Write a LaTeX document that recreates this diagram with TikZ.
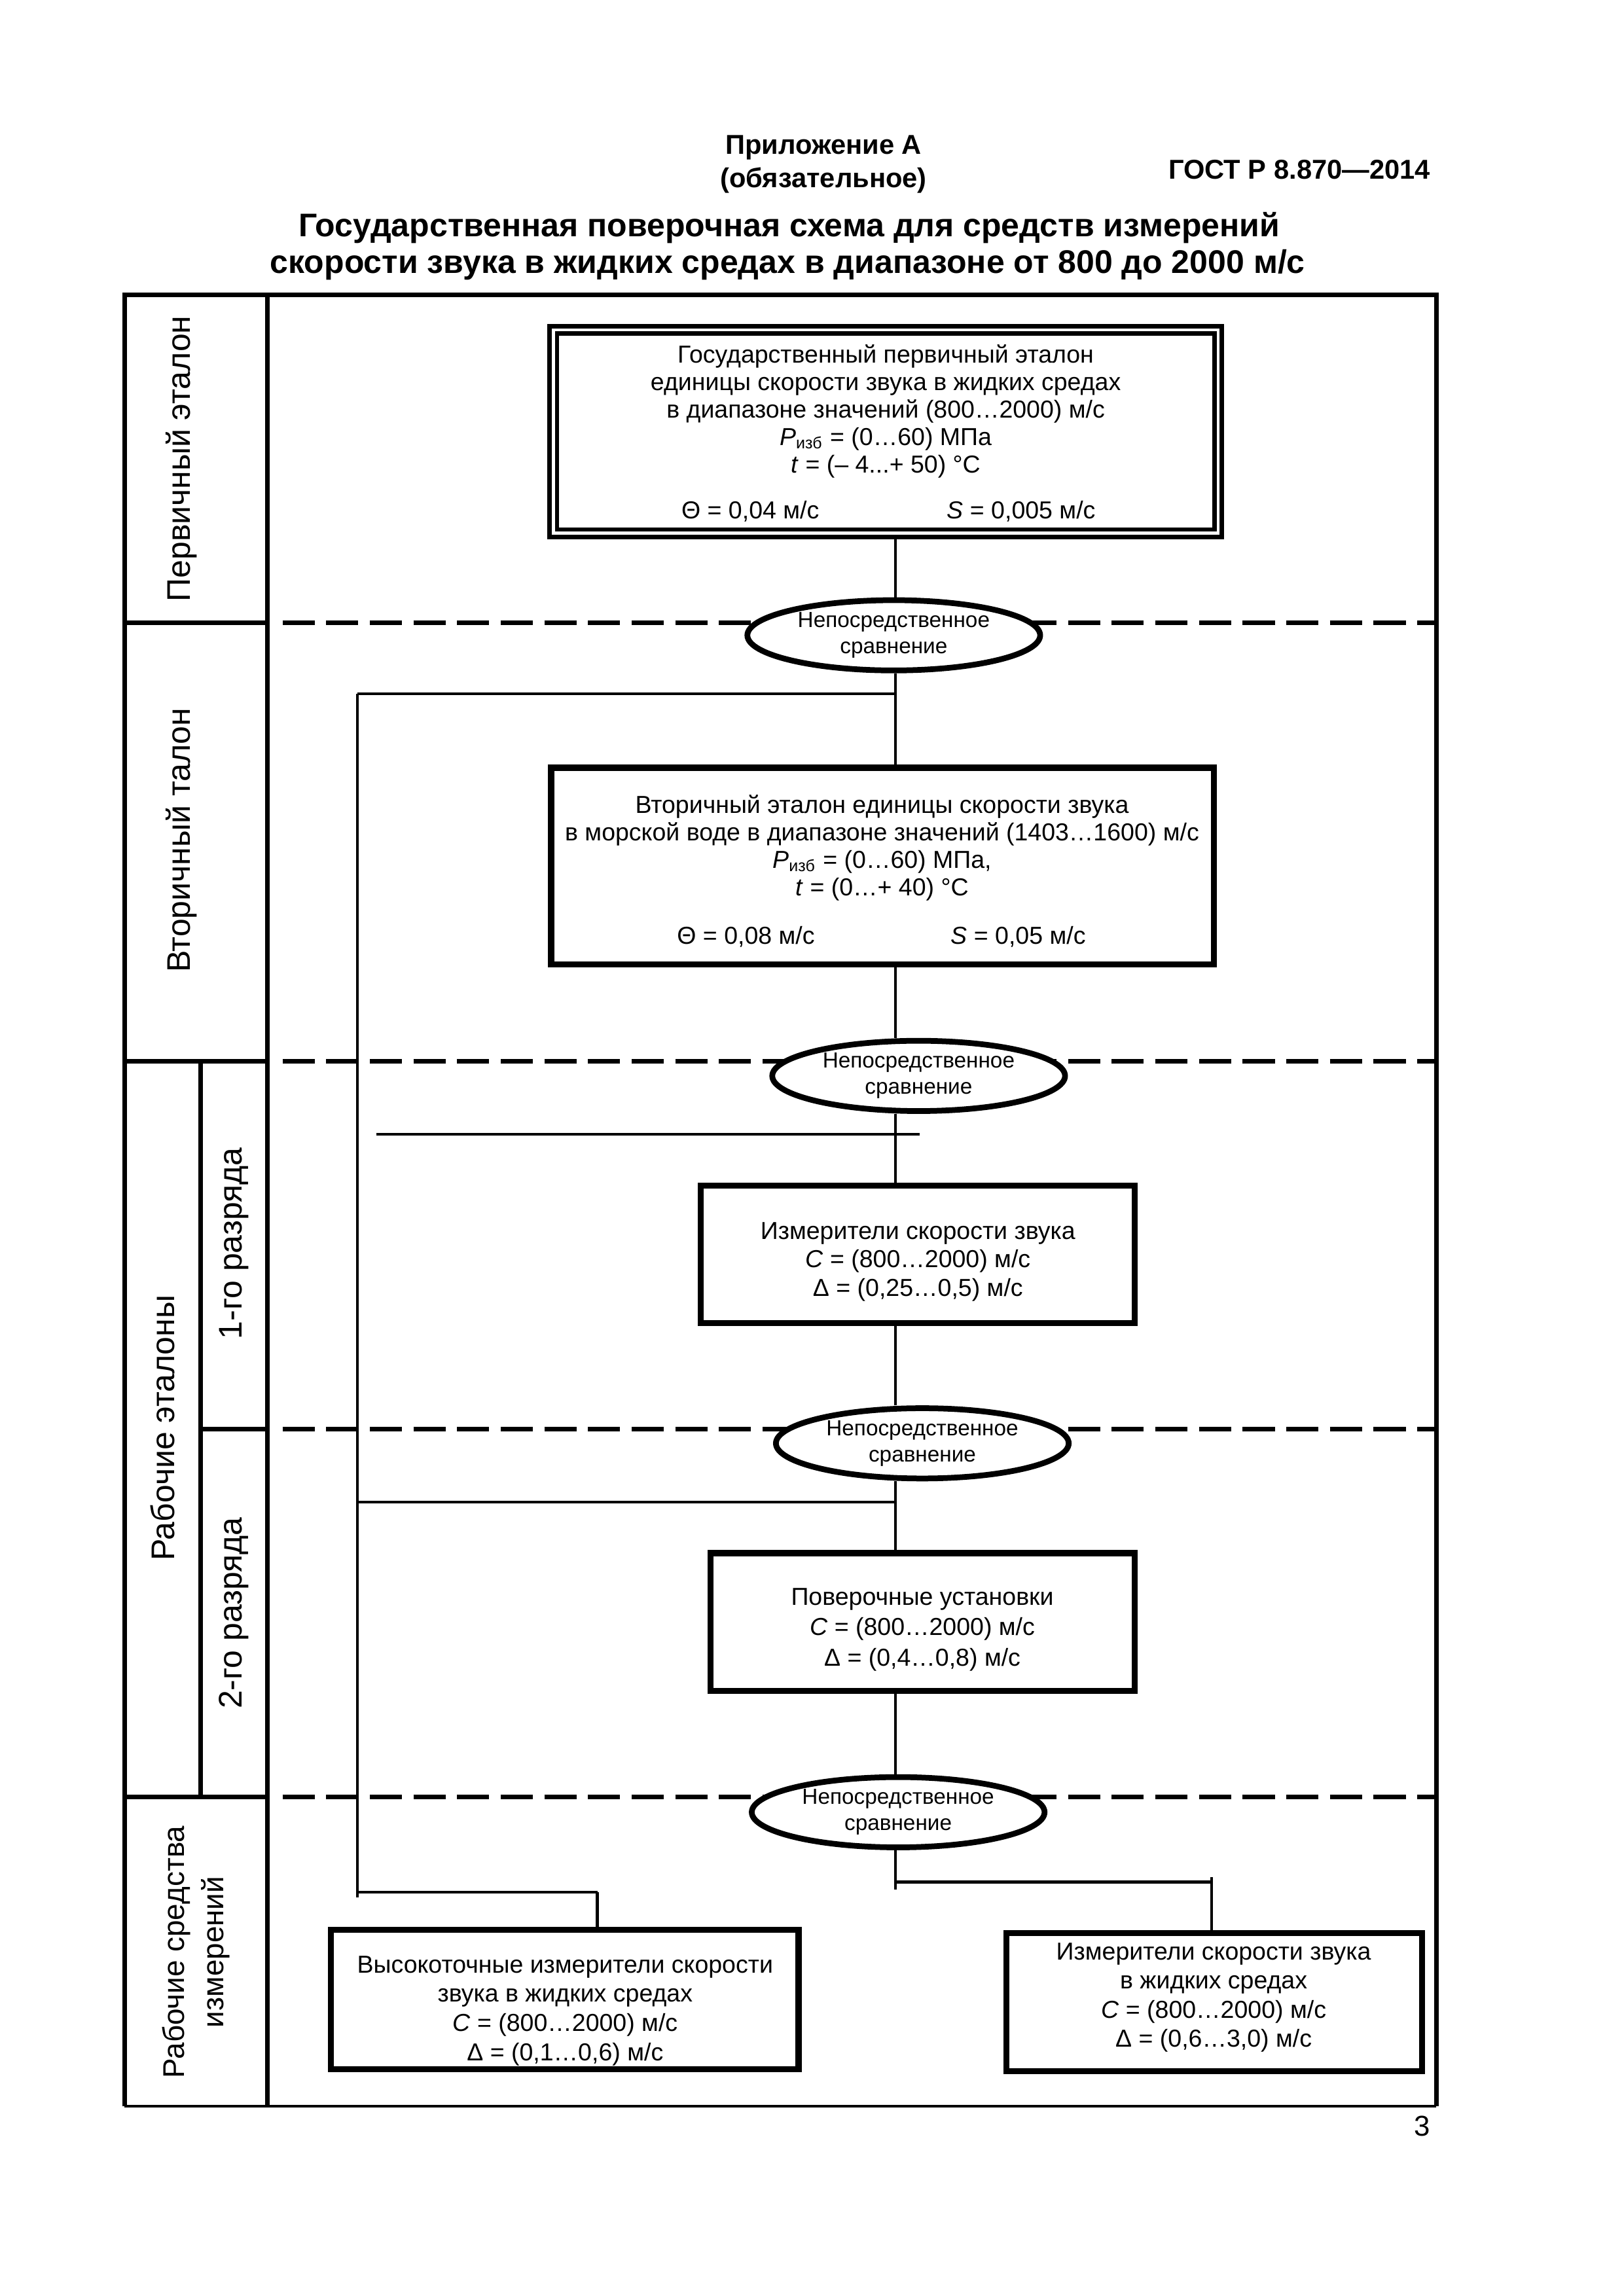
\documentclass[tikz,border=0pt]{standalone}
\usepackage{fontspec}
\setmainfont{Liberation Sans}
\usetikzlibrary{shapes.geometric}
\pgfdeclarelayer{bg}
\pgfsetlayers{bg,main}
\newlength\dpx
\setlength\dpx{0.53677pt}
\tikzset{
  frameline/.style={line width=1.7pt},
  boxs/.style={draw, fill=white, line width=2.2pt, rectangle, inner sep=0pt},
  dbox/.style={draw, fill=white, line width=1.6pt, double=white, double distance=1.1pt, rectangle, inner sep=0pt},
  oval/.style={draw, ellipse, line width=2.1pt, fill=white, inner sep=0pt,
     minimum width=200*\dpx, minimum height=48*\dpx, align=center,
     font=\fontsize{8}{9.6}\selectfont},
  conn/.style={line width=1pt},
  sepline/.style={line width=1.7pt, dash pattern=on 11.8pt off 4.2pt},
  lab/.style={rotate=90, font=\fontsize{12}{14}\selectfont, inner sep=0pt, align=center},
  btxt/.style={align=center, inner sep=0pt},
  head/.style={anchor=base, inner sep=0pt, font=\bfseries\fontsize{10}{12}\selectfont},
}
\begin{document}
\begin{tikzpicture}[x=0.53677pt, y=-0.53677pt]
\useasboundingbox (0,0) rectangle (1109,1568.5);
\begin{pgfonlayer}{bg}
\fill[white] (0,0) rectangle (1109,1568.5);
\end{pgfonlayer}

% header
\node[head] (app) at (562.5,105.5) {Приложение А};
\node[head] (obl) at (562.5,128) {(обязательное)};
\node[head] (gost) at (887.6,122.5) {ГОСТ Р 8.870—2014};
\node[head, font=\bfseries\fontsize{12}{14}\selectfont] (tit1) at (539,161.5) {Государственная поверочная схема для средств измерений};
\node[head, font=\bfseries\fontsize{12}{14}\selectfont] (tit2) at (538,186.5) {скорости звука в жидких средах в диапазоне от 800 до 2000 м/с};
\node[anchor=base, inner sep=0pt, font=\fontsize{10.5}{12}\selectfont] (pg) at (971.5,1459) {3};

% frame
\coordinate (fTL) at (85,201.5);
\coordinate (fTR) at (981,201.5);
\coordinate (fBL) at (85,1439);
\coordinate (fBR) at (981,1439);
\coordinate (cT) at (182.5,201.5);
\coordinate (cB) at (182.5,1439);
\draw[frameline] (fBL) -- (fTL) -- (fTR) -- (fBR);
\draw[line width=1pt] (fBL) -- (fBR);
\draw[frameline] (cT) -- (cB);
\coordinate (r1a) at (85,425.3);   \coordinate (r1b) at (182.5,425.3);
\coordinate (r2a) at (85,725);     \coordinate (r2b) at (182.5,725);
\coordinate (r3a) at (137,976.3);  \coordinate (r3b) at (182.5,976.3);
\coordinate (r4a) at (85,1227.5);  \coordinate (r4b) at (182.5,1227.5);
\coordinate (sdT) at (137,725);    \coordinate (sdB) at (137,1227.5);
\draw[frameline] (r1a) -- (r1b);
\draw[frameline] (r2a) -- (r2b);
\draw[frameline] (r3a) -- (r3b);
\draw[frameline] (r4a) -- (r4b);
\draw[frameline] (sdT) -- (sdB);

% column labels
\node[lab] (l1) at (124,313.4) {Первичный эталон};
\node[lab] (l2) at (124,574) {Вторичный талон};
\node[lab] (l3) at (111,975.5) {Рабочие эталоны};
\node[lab] (l4) at (159.7,849.5) {1-го разряда};
\node[lab] (l5) at (159.7,1102) {2-го разряда};
\node[lab, font=\fontsize{11}{14.5}\selectfont] (l6) at (134,1333.5) {Рабочие средства\\измерений};

% boxes
\node[dbox, minimum width=454*\dpx, minimum height=139*\dpx] (b1) at (605,294.8) {};
\node[boxs, minimum width=452.5*\dpx, minimum height=134.5*\dpx] (b2) at (602.75,591.75) {};
\node[boxs, minimum width=296.5*\dpx, minimum height=94*\dpx] (b3) at (626.75,857) {};
\node[boxs, minimum width=289.5*\dpx, minimum height=94*\dpx] (b4) at (630.25,1108) {};
\node[boxs, minimum width=319.5*\dpx, minimum height=95*\dpx] (b5) at (385.75,1366) {};
\node[boxs, minimum width=284*\dpx, minimum height=94.5*\dpx] (b6) at (829.5,1367.75) {};

% box texts
\node[btxt, font=\fontsize{9}{10.1}\selectfont] (b1t) at (605,296) {Государственный первичный эталон\\
единицы скорости звука в жидких средах\\
в диапазоне значений (800…2000) м/с\\
\textit{P}\textsubscript{изб} = (0…60) МПа\\
\textit{t} = (– 4...+ 50) °C\\[6.8pt]
\makebox[185\dpx]{Θ = 0,04 м/с}\makebox[185\dpx]{\textit{S} = 0,005 м/с}};
\node[btxt, font=\fontsize{9}{10.1}\selectfont] (b2t) at (602.5,595) {Вторичный эталон единицы скорости звука\\
в морской воде в диапазоне значений (1403…1600) м/с\\
\textit{P}\textsubscript{изб} = (0…60) МПа,\\
\textit{t} = (0…+ 40) °C\\[7.6pt]
\makebox[186\dpx]{Θ = 0,08 м/с}\makebox[186\dpx]{\textit{S} = 0,05 м/с}};
\node[btxt, font=\fontsize{9}{10.5}\selectfont] (b3t) at (627,862) {Измерители скорости звука\\
\textit{C} = (800…2000) м/с\\
Δ = (0,25…0,5) м/с};
\node[btxt, font=\fontsize{9}{11.1}\selectfont] (b4t) at (630,1113.3) {Поверочные установки\\
\textit{C} = (800…2000) м/с\\
Δ = (0,4…0,8) м/с};
\node[btxt, font=\fontsize{9}{10.7}\selectfont] (b5t) at (386,1373.6) {Высокоточные измерители скорости\\
звука в жидких средах\\
\textit{C} = (800…2000) м/с\\
Δ = (0,1…0,6) м/с};
\node[btxt, font=\fontsize{9}{10.7}\selectfont] (b6t) at (829,1364.6) {Измерители скорости звука\\
в жидких средах\\
\textit{C} = (800…2000) м/с\\
Δ = (0,6…3,0) м/с};

% ellipses
\node[oval] (e1) at (610.5,434) {Непосредственное\\сравнение};
\node[oval] (e2) at (627.5,735) {Непосредственное\\сравнение};
\node[oval] (e3) at (630,986) {Непосредственное\\сравнение};
\node[oval] (e4) at (613.5,1238) {Непосредственное\\сравнение};

% connectors and separators (behind)
\coordinate (tx) at (611.5,0);
\coordinate (d1a) at (193,425.3);  \coordinate (d1b) at (981,425.3);
\coordinate (d2a) at (193,725);    \coordinate (d2b) at (981,725);
\coordinate (d3a) at (193,976.3);  \coordinate (d3b) at (981,976.3);
\coordinate (d4a) at (193,1227.5); \coordinate (d4b) at (981,1227.5);
\coordinate (la) at (244,474);
\coordinate (lb) at (244,1296);
\coordinate (lc) at (244,1026);
\coordinate (ld) at (244,1292.5);
\coordinate (le) at (408,1292.5);
\coordinate (ha) at (257,775);
\coordinate (hb) at (628,775);
\coordinate (stub) at (611.5,1291);
\coordinate (ra) at (611.5,1285.7);
\coordinate (rb) at (827.5,1285.7);
\coordinate (rc) at (827.5,1282.5);
\begin{pgfonlayer}{bg}
\draw[sepline] (d1a) -- (d1b);
\draw[sepline] (d2a) -- (d2b);
\draw[sepline] (d3a) -- (d3b);
\draw[sepline] (d4a) -- (d4b);
\draw[conn] (b1.south -| tx) -- (e1.north -| tx);
\draw[conn] (e1.south -| tx) -- (b2.north -| tx);
\draw[conn] (b2.south -| tx) -- (e2.north -| tx);
\draw[conn] (e2.south -| tx) -- (b3.north -| tx);
\draw[conn] (b3.south -| tx) -- (e3.north -| tx);
\draw[conn] (e3.south -| tx) -- (b4.north -| tx);
\draw[conn] (b4.south -| tx) -- (e4.north -| tx);
\draw[conn] (e4.south -| tx) -- (stub);
\draw[conn] (ra) -- (rb);
\draw[conn] (rc) -- (rc |- b6.north);
\draw[conn] (la) -- (la -| tx);
\draw[conn] (la) -- (lb);
\draw[conn] (lc) -- (lc -| tx);
\draw[conn] (ld) -- (le);
\draw[conn] (le) -- (le |- b5.north);
\draw[conn] (ha) -- (hb);
\end{pgfonlayer}
\end{tikzpicture}
\end{document}
